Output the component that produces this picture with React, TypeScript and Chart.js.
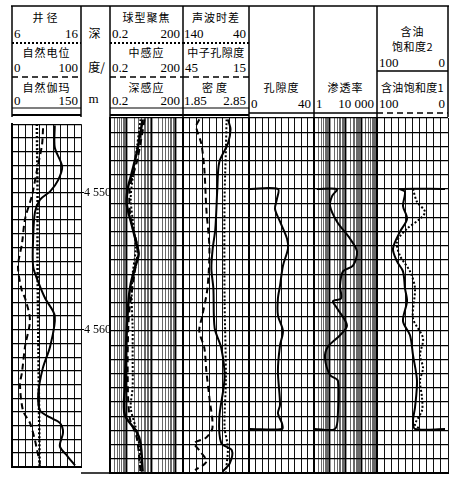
import React, { useEffect, useRef } from "react";
import { Chart, registerables } from "chart.js";
Chart.register(...registerables);

const CJK = '"Noto Sans CJK SC", sans-serif';
const SERIF = '"Liberation Serif", "Times New Roman", serif';

// ---------- depth axis ----------
const depthMin = 4545;
const depthMax = 4570;
const depthLabels = [4550, 4560];

// ---------- track 1 : 井径 / 自然电位 / 自然伽玛 ----------
const calDepth = [4545, 4550, 4555, 4560, 4565, 4570];
const calValue = [9.6, 9.7, 9.7, 9.8, 9.9, 10.0];
const spDepth = [4545.3, 4546.5, 4548.4, 4550.2, 4551.9, 4553.7, 4555.4, 4557.2, 4557.7, 4559.3, 4561.2, 4563.1, 4564.0, 4565.9, 4566.8, 4568.0, 4568.7, 4569.8];
const spValue = [45, 43.5, 36, 29, 19, 14.5, 8.7, 14.5, 19, 26, 19, 14.5, 11.6, 16, 26, 33, 36, 40.6];
const grDepth = [4545.1, 4546.7, 4548.1, 4549.1, 4549.9, 4550.5, 4551.4, 4553.3, 4555.4, 4556.5, 4557.7, 4559.0, 4561.2, 4562.8, 4564.7, 4565.9, 4566.4, 4566.8, 4567.5, 4568.5, 4569.2, 4569.9];
const grValue = [93, 93, 109, 100, 83, 61, 50, 46, 46, 57, 72, 93, 83, 67, 57, 61, 83, 104, 111, 104, 120, 137];

// ---------- track 2 : 球型聚焦 / 中感应 / 深感应 ----------
const sflDepth = [4545.1, 4547.2, 4549.3, 4550.7, 4552.8, 4554.2, 4556.0, 4557.7, 4559.8, 4561.9, 4564.0, 4565.4, 4566.8, 4568.2, 4569.9];
const sflValue = [3.6, 2.5, 1.7, 1.42, 1.9, 2.27, 1.7, 1.56, 1.7, 1.7, 1.7, 1.42, 2.27, 3.3, 3.6];
const ilmDepth = [4545.1, 4547.9, 4550.0, 4552.1, 4554.2, 4556.3, 4559.1, 4563.3, 4566.1, 4567.5, 4569.9];
const ilmValue = [5.3, 2.7, 1.29, 1.42, 2.7, 1.88, 1.18, 1.07, 1.29, 2.5, 3.6];
const ildDepth = [4545.1, 4547.2, 4548.9, 4550.0, 4551.1, 4552.5, 4553.9, 4554.6, 4555.6, 4556.7, 4557.7, 4559.8, 4561.9, 4564.0, 4565.9, 4567.1, 4567.9, 4569.9];
const ildValue = [4.4, 2.7, 1.56, 1.07, 0.98, 1.56, 2.5, 3.0, 2.07, 1.42, 1.18, 0.98, 0.89, 0.81, 0.81, 2.5, 3.6, 4.4];

// ---------- track 3 : 声波时差 / 中子孔隙度 / 密度 ----------
const acDepth = [4545.1, 4547.2, 4550.7, 4557.7, 4563.3, 4566.8, 4568.2, 4569.9];
const acValue = [74, 75, 77, 77, 75, 77, 72, 75];
const cnlDepth = [4545.1, 4545.6, 4546.8, 4548.6, 4551.4, 4554.2, 4557.0, 4558.9, 4560.0, 4561.2, 4562.8, 4564.7, 4566.8, 4567.5, 4567.9, 4568.4, 4569.2, 4569.8];
const cnlValue = [37.6, 39, 36.7, 35.3, 34.4, 33, 33.9, 36.2, 37.6, 35.3, 34.4, 33, 31.6, 34.4, 39.9, 37.6, 34.4, 39.5];
const denDepth = [4545.1, 4545.8, 4546.8, 4548.1, 4550.0, 4552.8, 4554.2, 4555.6, 4557.0, 4559.8, 4561.2, 4563.3, 4566.1, 4567.9, 4568.4, 4569.3, 4569.9];
const denValue = [2.53, 2.57, 2.53, 2.40, 2.37, 2.34, 2.30, 2.28, 2.31, 2.33, 2.43, 2.48, 2.40, 2.43, 2.59, 2.56, 2.45];

// ---------- track 4 : 孔隙度 ----------
const porDepth = [4550, 4550, 4550.7, 4551.4, 4552.3, 4553.5, 4554.2, 4555.4, 4556.8, 4557.7, 4558.9, 4560.0, 4561.0, 4562.8, 4565.2, 4565.8, 4566.5, 4566.9, 4566.9];
const porValue = [0, 17.8, 17.2, 16, 19.1, 23.4, 24, 20.9, 19.1, 17.8, 17.8, 20.9, 19.1, 17.8, 19.1, 17.8, 20.3, 20.3, 0.5];

// ---------- track 5 : 渗透率 ----------
const permDepth = [4550, 4550, 4550.5, 4551.2, 4552.3, 4553.5, 4554.4, 4555.4, 4555.8, 4556.8, 4557.7, 4557.9, 4558.4, 4559.6, 4560.3, 4561.1, 4561.9, 4563.1, 4563.5, 4565.8, 4566.9, 4566.9];
const permValue = [1.5, 29, 14, 10.4, 29, 193, 537, 299, 69, 45, 52, 16, 29, 124, 45, 7.7, 5, 10.4, 33, 33, 21.5, 1.1];

// ---------- track 6 : 含油饱和度 ----------
const so2Depth = [4550, 4550, 4550.2, 4551.2, 4552.1, 4553.0, 4554.2, 4555.1, 4555.8, 4557.0, 4557.9, 4559.3, 4560.3, 4561.7, 4563.5, 4565.4, 4566.3, 4566.9, 4566.9];
const so2Value = [4.2, 67.6, 60.6, 63.4, 57.7, 67.6, 77.5, 71.8, 63.4, 60.6, 57.7, 63.4, 53.5, 49.3, 43.7, 46.5, 49.3, 46.5, 4.2];
const so1Depth = [4550.0, 4550.9, 4551.6, 4552.1, 4552.8, 4553.7, 4554.7, 4555.8, 4557.0, 4559.1, 4560.5, 4561.7, 4562.6, 4563.5, 4564.7, 4565.6, 4566.6, 4566.9];
const so1Value = [49.3, 43.7, 32.4, 39.4, 57.7, 71.8, 67.6, 53.5, 46.5, 49.3, 35.2, 39.4, 35.2, 39.4, 36.6, 36.6, 46.5, 39.4];

// ---------- layout ----------
const PLOT_TOP = 118;
const PLOT_BOTTOM = 473;

function gridTicks(min: number, max: number, n: number) {
  const out: number[] = [];
  for (let i = 0; i <= n; i++) out.push(min + ((max - min) * i) / n);
  return out;
}
function logTicks(min: number, max: number) {
  const out: number[] = [];
  let p = Math.pow(10, Math.floor(Math.log10(min)));
  while (p <= max * 1.0001) {
    for (let m = 1; m < 10; m++) {
      const v = +(m * p).toPrecision(6);
      if (v >= min * 0.9999 && v <= max * 1.0001) out.push(v);
    }
    p *= 10;
  }
  return out;
}
function isDecade(v: number) {
  const l = Math.log10(v);
  return Math.abs(l - Math.round(l)) < 1e-6;
}
function fmtDepth(v: number) {
  return String(v).replace(/^(\d)(\d{3})$/, "$1 $2");
}

type AxisDef = { id: string; type: "linear" | "logarithmic"; min: number; max: number; reverse?: boolean };
type Curve = { depth: number[]; value: number[]; axis: string; style: "solid" | "dotted" | "dashed"; width?: number };

function Track(props: { left: number; right: number; axes: AxisDef[]; curves: Curve[]; withDepth?: boolean }) {
  const { left, right, axes, curves, withDepth } = props;
  const ref = useRef<HTMLCanvasElement>(null);
  const extra = withDepth ? 30 : 1;
  const w = right - left + 1 + extra;
  const h = PLOT_BOTTOM - PLOT_TOP + 2;

  useEffect(() => {
    const scales: any = {};
    axes.forEach((a, i) => {
      const isLog = a.type === "logarithmic";
      scales[a.id] = {
        type: a.type,
        position: "bottom",
        min: a.min,
        max: a.max,
        reverse: !!a.reverse,
        display: i === 0,
        afterBuildTicks: (s: any) => {
          const vals = isLog ? logTicks(a.min, a.max) : gridTicks(a.min, a.max, 10);
          s.ticks = vals.map((v) => ({ value: v }));
        },
        grid: {
          drawTicks: false,
          color: (ctx: any) => (isLog ? (ctx.tick && isDecade(ctx.tick.value) ? "#000" : "#6a6a6a") : "#111"),
          lineWidth: (ctx: any) => (isLog ? (ctx.tick && isDecade(ctx.tick.value) ? 1.4 : 1) : 1),
        },
        border: { display: true, color: "#000", width: 2 },
        ticks: { display: false },
      };
    });
    scales.y = {
      type: "linear",
      position: "left",
      min: depthMin,
      max: depthMax,
      reverse: true,
      afterBuildTicks: (s: any) => {
        s.ticks = gridTicks(depthMin, depthMax, depthMax - depthMin).map((v) => ({ value: v }));
      },
      grid: { drawTicks: false, color: "#000", lineWidth: 1.3 },
      border: { display: true, color: "#000", width: 2 },
      ticks: { display: false },
    };
    if (withDepth) {
      scales.yd = {
        type: "linear",
        position: "right",
        min: depthMin,
        max: depthMax,
        reverse: true,
        afterBuildTicks: (s: any) => {
          s.ticks = depthLabels.map((v) => ({ value: v }));
        },
        afterFit: (s: any) => {
          s.width = 30;
        },
        grid: { drawOnChartArea: false, drawTicks: true, tickLength: 3, color: "#000", lineWidth: 1 },
        border: { display: false },
        ticks: {
          display: true,
          padding: 0,
          color: "#000",
          autoSkip: false,
          font: { family: SERIF, size: 12 },
          callback: (v: any) => fmtDepth(Number(v)),
        },
      };
    }
    const datasets = curves.map((c) => ({
      data: c.depth.map((d, i) => ({ x: c.value[i], y: d })),
      xAxisID: c.axis,
      yAxisID: "y",
      showLine: true,
      pointRadius: 0,
      borderColor: "#000",
      borderWidth: c.width ?? 2,
      borderDash: c.style === "dotted" ? [2, 2] : c.style === "dashed" ? [6, 4] : [],
      borderCapStyle: "butt",
      tension: 0.3,
      fill: false,
    }));
    const chart = new Chart(ref.current as HTMLCanvasElement, {
      type: "scatter",
      data: { datasets } as any,
      options: {
        animation: false,
        responsive: false,
        devicePixelRatio: 1,
        events: [],
        layout: { padding: { left: 1, top: 1, bottom: 1, right: withDepth ? 0 : 1 } },
        plugins: { legend: { display: false }, tooltip: { enabled: false } },
        scales,
      } as any,
    });
    return () => chart.destroy();
  }, []);

  return (
    <canvas
      ref={ref}
      width={w}
      height={h}
      style={{ position: "absolute", left: left - 1, top: PLOT_TOP - 1, width: w, height: h }}
    />
  );
}

// ---------- header helpers ----------
function T(p: { x0: number; x1: number; y: number; text: string; align?: "left" | "right" | "center"; size?: number; font?: string; ls?: number }) {
  const size = p.size ?? 11;
  const hh = size + 4;
  const style: React.CSSProperties = {
    position: "absolute",
    top: p.y - hh / 2,
    height: hh,
    lineHeight: hh + "px",
    fontSize: size,
    fontFamily: p.font ?? CJK,
    whiteSpace: "nowrap",
    letterSpacing: p.ls ?? 0,
    color: "#000",
  };
  const align = p.align ?? "center";
  if (align === "center") {
    style.left = p.x0 - 10;
    style.width = p.x1 - p.x0 + 20;
    style.textAlign = "center";
  } else if (align === "left") {
    style.left = p.x0;
  } else {
    style.right = 460 - p.x1;
  }
  return <div style={style}>{p.text}</div>;
}

// all header rules drawn in one SVG overlay
type Rule = { x0: number; y0: number; x1: number; y1: number; w: number; dash?: string };

const C = { t1: [12, 81], t2: [110, 183], t3: [183, 249], t4: [249, 314], t5: [314, 377], t6: [377, 448] };
const DOT = "2 2";
const DASH = "6 4";

function headerRules(): Rule[] {
  const r: Rule[] = [];
  r.push({ x0: 11, y0: 6, x1: 449, y1: 6, w: 1.5 });
  [12, 81, 110, 183, 249, 314, 377, 448].forEach((x) => r.push({ x0: x, y0: 6, x1: x, y1: 117, w: 1.5 }));
  [C.t1, C.t2, C.t3].forEach(([a, b]) => {
    r.push({ x0: a, y0: 43, x1: b, y1: 43, w: 2, dash: DOT });
    r.push({ x0: a, y0: 77, x1: b, y1: 77, w: 1.5, dash: DASH });
    r.push({ x0: a, y0: 108, x1: b, y1: 108, w: 1.2 });
    r.push({ x0: a, y0: 115, x1: b, y1: 115, w: 2 });
  });
  r.push({ x0: C.t4[0], y0: 113, x1: C.t4[1], y1: 113, w: 1.5 });
  r.push({ x0: C.t5[0], y0: 113, x1: C.t5[1], y1: 113, w: 1.5 });
  r.push({ x0: C.t6[0], y0: 71, x1: C.t6[1], y1: 71, w: 1.5 });
  r.push({ x0: C.t6[0], y0: 113, x1: C.t6[1], y1: 113, w: 1.5, dash: DASH });
  r.push({ x0: 81, y0: PLOT_BOTTOM, x1: 110, y1: PLOT_BOTTOM, w: 1.5 });
  return r;
}

function Rules() {
  return (
    <svg width={460} height={491} style={{ position: "absolute", left: 0, top: 0 }}>
      {headerRules().map((l, i) => (
        <line key={i} x1={l.x0} y1={l.y0} x2={l.x1} y2={l.y1} stroke="#000" strokeWidth={l.w} strokeDasharray={l.dash} />
      ))}
    </svg>
  );
}

function Range(p: { x0: number; x1: number; y: number; lo: string; hi: string }) {
  return (
    <>
      <T x0={p.x0 + 2} x1={p.x1} y={p.y} text={p.lo} align="left" size={13} font={SERIF} />
      <T x0={p.x0} x1={p.x1 - 3} y={p.y} text={p.hi} align="right" size={13} font={SERIF} />
    </>
  );
}

function Header() {
  const [a0, a1] = C.t1;
  const [b0, b1] = C.t2;
  const [c0, c1] = C.t3;
  const [d0, d1] = C.t4;
  const [e0, e1] = C.t5;
  const [f0, f1] = C.t6;
  return (
    <>
      <Rules />
      {/* track 1 */}
      <T x0={a0} x1={a1} y={17} text="井径" ls={3} />
      <Range x0={a0} x1={a1} y={33} lo="6" hi="16" />
      <T x0={a0} x1={a1} y={52} text="自然电位" ls={1} />
      <Range x0={a0} x1={a1} y={67} lo="0" hi="100" />
      <T x0={a0} x1={a1} y={87} text="自然伽玛" ls={1} />
      <Range x0={a0} x1={a1} y={100} lo="0" hi="150" />
      {/* depth column */}
      <T x0={81} x1={108} y={33} text="深" size={12} />
      <T x0={83} x1={110} y={67} text="度/" size={12} />
      <T x0={81} x1={106} y={98} text="m" size={13} font={SERIF} />
      {/* track 2 */}
      <T x0={b0} x1={b1} y={17} text="球型聚焦" ls={1} />
      <Range x0={b0} x1={b1} y={33} lo="0.2" hi="200" />
      <T x0={b0} x1={b1} y={52} text="中感应" ls={1} />
      <Range x0={b0} x1={b1} y={67} lo="0.2" hi="200" />
      <T x0={b0} x1={b1} y={87} text="深感应" ls={1} />
      <Range x0={b0} x1={b1} y={100} lo="0.2" hi="200" />
      {/* track 3 */}
      <T x0={c0} x1={c1} y={17} text="声波时差" ls={1} />
      <Range x0={c0 - 1} x1={c1} y={33} lo="140" hi="40" />
      <T x0={c0} x1={c1} y={52} text="中子孔隙度" ls={0.5} />
      <Range x0={c0} x1={c1} y={67} lo="45" hi="15" />
      <T x0={c0} x1={c1} y={87} text="密度" ls={3} />
      <Range x0={c0 - 1} x1={c1} y={100} lo="1.85" hi="2.85" />
      {/* track 4 */}
      <T x0={d0} x1={d1} y={87} text="孔隙度" ls={1} />
      <Range x0={d0} x1={d1} y={103} lo="0" hi="40" />
      {/* track 5 */}
      <T x0={e0} x1={e1} y={87} text="渗透率" ls={1} />
      <Range x0={e0} x1={e1} y={103} lo="1" hi="10 000" />
      {/* track 6 */}
      <T x0={f0} x1={f1} y={31} text="含油" ls={1} />
      <T x0={f0} x1={f1} y={46} text="饱和度2" ls={0.5} />
      <Range x0={f0} x1={f1} y={62} lo="100" hi="0" />
      <T x0={f0} x1={f1} y={87} text="含油饱和度1" ls={0.3} />
      <Range x0={f0} x1={f1} y={103} lo="100" hi="0" />
    </>
  );
}

export default function App() {
  return (
    <div style={{ position: "fixed", left: 0, top: 0, width: 460, height: 491, background: "#fff", overflow: "hidden" }}>
      <Header />
      <Track
        left={12}
        right={81}
        withDepth
        axes={[
          { id: "xcal", type: "linear", min: 6, max: 16 },
          { id: "xsp", type: "linear", min: 0, max: 100 },
          { id: "xgr", type: "linear", min: 0, max: 150 },
        ]}
        curves={[
          { depth: calDepth, value: calValue, axis: "xcal", style: "dotted", width: 2.5 },
          { depth: spDepth, value: spValue, axis: "xsp", style: "dashed" },
          { depth: grDepth, value: grValue, axis: "xgr", style: "solid" },
        ]}
      />
      <Track
        left={110}
        right={183}
        axes={[{ id: "xres", type: "logarithmic", min: 0.2, max: 200 }]}
        curves={[
          { depth: sflDepth, value: sflValue, axis: "xres", style: "dotted" },
          { depth: ilmDepth, value: ilmValue, axis: "xres", style: "dashed" },
          { depth: ildDepth, value: ildValue, axis: "xres", style: "solid", width: 2.5 },
        ]}
      />
      <Track
        left={183}
        right={249}
        axes={[
          { id: "xden", type: "linear", min: 1.85, max: 2.85 },
          { id: "xac", type: "linear", min: 40, max: 140, reverse: true },
          { id: "xcnl", type: "linear", min: 15, max: 45, reverse: true },
        ]}
        curves={[
          { depth: acDepth, value: acValue, axis: "xac", style: "dotted" },
          { depth: cnlDepth, value: cnlValue, axis: "xcnl", style: "dashed" },
          { depth: denDepth, value: denValue, axis: "xden", style: "solid" },
        ]}
      />
      <Track
        left={249}
        right={314}
        axes={[{ id: "xpor", type: "linear", min: 0, max: 40 }]}
        curves={[{ depth: porDepth, value: porValue, axis: "xpor", style: "solid" }]}
      />
      <Track
        left={314}
        right={377}
        axes={[{ id: "xperm", type: "logarithmic", min: 1, max: 10000 }]}
        curves={[{ depth: permDepth, value: permValue, axis: "xperm", style: "solid" }]}
      />
      <Track
        left={377}
        right={448}
        axes={[{ id: "xso", type: "linear", min: 0, max: 100, reverse: true }]}
        curves={[
          { depth: so1Depth, value: so1Value, axis: "xso", style: "dotted" },
          { depth: so2Depth, value: so2Value, axis: "xso", style: "solid" },
        ]}
      />
    </div>
  );
}
